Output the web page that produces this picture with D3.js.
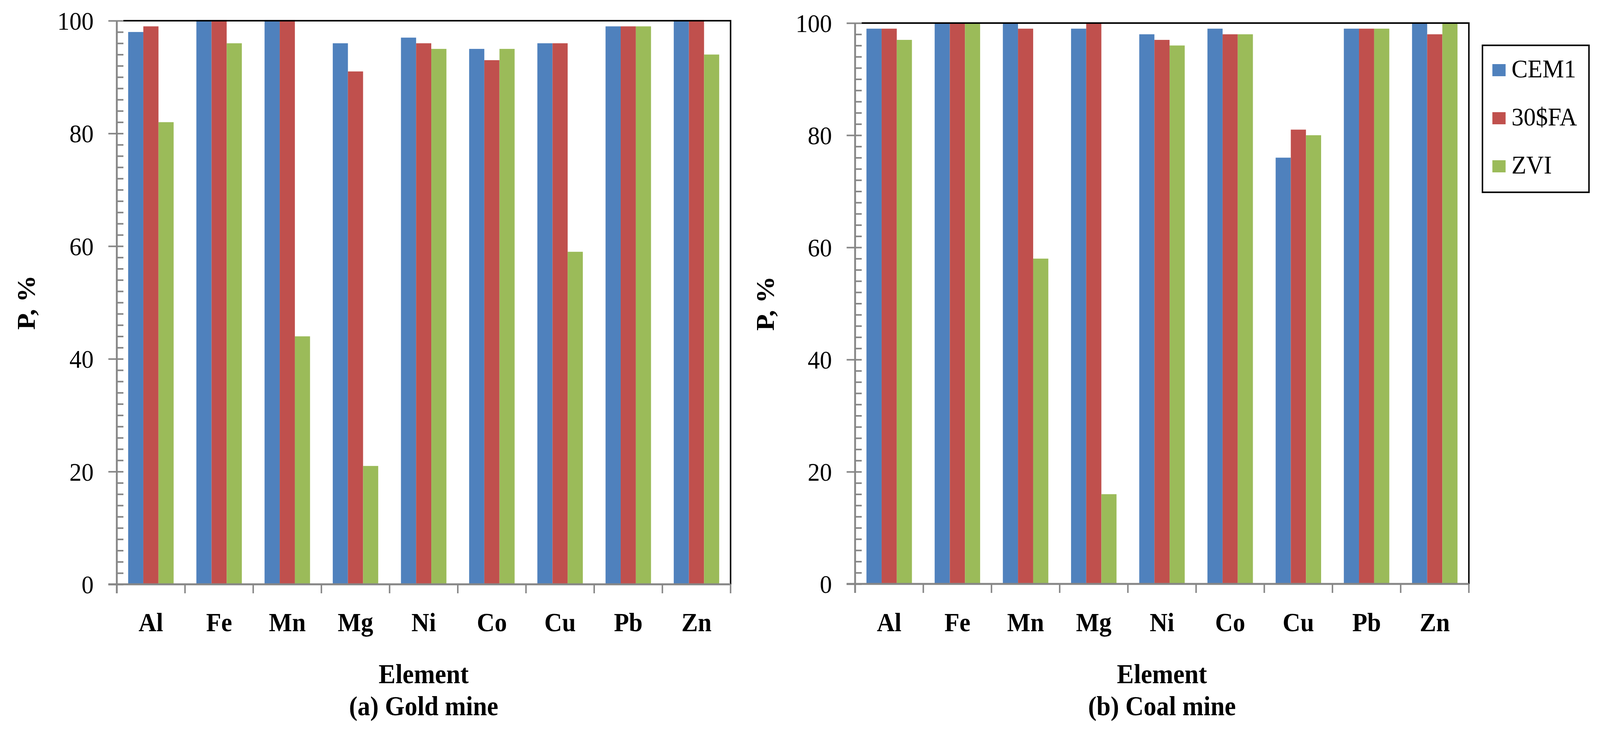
<!DOCTYPE html>
<html>
  <head>
    <meta charset="utf-8">
    <title>P, % by element</title>
    <style>
html, body {
  margin: 0;
  padding: 0;
  background: #fff;
  overflow: hidden;
}
svg {
  display: block;
}
text {
  font-family: "Liberation Serif", "Times New Roman", serif;
  fill: #000;
}
    </style>
  </head>
  <body>
    <div id="chart"></div>
    <script src="https://cdn.jsdelivr.net/npm/d3@7"></script>
    <script>

    var elements = ['Al', 'Fe', 'Mn', 'Mg', 'Ni', 'Co', 'Cu', 'Pb', 'Zn'];
    var series = ['CEM1', '30$FA', 'ZVI'];
    var colors = ['#4F81BD', '#C0504D', '#9BBB59'];

    // (a) Gold mine
    var goldCEM1 = [98, 100, 100, 96, 97, 95, 96, 99, 100];
    var goldFA   = [99, 100, 100, 91, 96, 93, 96, 99, 100];
    var goldZVI  = [82, 96, 44, 21, 95, 95, 59, 99, 94];

    // (b) Coal mine
    var coalCEM1 = [99, 100, 100, 99, 98, 99, 76, 99, 100];
    var coalFA   = [99, 100, 99, 100, 97, 98, 81, 99, 98];
    var coalZVI  = [97, 100, 58, 16, 96, 98, 80, 99, 100];

    var yMajor = [0, 20, 40, 60, 80, 100];
    var yMinor = d3.range(0, 101, 2).filter(function(v) { return v % 20 != 0; });

    var panels = [
      { left: 318, right: 1989, top: 53, bottom: 1495, titleX: 95,
        title: 'Element', sub: '(a) Gold mine', values: [goldCEM1, goldFA, goldZVI] },
      { left: 2328, right: 3999, top: 59, bottom: 1494, titleX: 2107,
        title: 'Element', sub: '(b) Coal mine', values: [coalCEM1, coalFA, coalZVI] }
    ];

    var axisGrey = '#868686';
    var W = 4356, H = 1878;

    // the visible window can be narrower than the drawing: stretch to fill it
    var vw = window.innerWidth || W,
        vh = window.innerHeight || H;

    var svg = d3.select('#chart').append('svg')
        .attr('viewBox', '0 0 ' + W + ' ' + H)
        .attr('preserveAspectRatio', 'none')
        .attr('width', vw)
        .attr('height', vh);

    panels.forEach(function(p) {
      var g = svg.append('g');

      var x0 = d3.scaleBand()
          .domain(elements)
          .range([p.left, p.right])
          .padding(0);
      var x1 = d3.scaleBand()
          .domain(series)
          .range([0, x0.bandwidth()])
          .paddingInner(0)
          .paddingOuter(0.75);
      var y = d3.scaleLinear()
          .domain([0, 100])
          .range([p.bottom, p.top]);

      // bars
      var groups = g.selectAll('.grp')
          .data(elements)
          .enter()
          .append('g')
            .attr('class', 'grp')
            .attr('transform', function(d) { return 'translate(' + x0(d) + ',0)'; });

      groups.selectAll('rect')
          .data(function(d, i) {
            return series.map(function(s, j) { return { s: s, j: j, v: p.values[j][i] }; });
          })
          .enter()
          .append('rect')
            .attr('x', function(d) { return x1(d.s); })
            .attr('width', x1.bandwidth())
            .attr('y', function(d) { return y(d.v); })
            .attr('height', function(d) { return y(0) - y(d.v); })
            .style('fill', function(d) { return colors[d.j]; });

      // frame (top + right)
      g.append('path')
          .attr('d', 'M' + (p.left + 18) + ',' + p.top + 'H' + p.right + 'V' + p.bottom)
          .style('fill', 'none')
          .style('stroke', '#000')
          .style('stroke-width', 4);

      // y axis: outward major ticks with labels
      var yAxis = g.append('g')
          .attr('transform', 'translate(' + p.left + ',0)')
          .call(d3.axisLeft(y).tickValues(yMajor).tickSize(23).tickPadding(40).tickSizeOuter(0));
      yAxis.select('.domain').remove();
      yAxis.selectAll('text')
          .style('font-family', '"Liberation Serif", "Times New Roman", serif')
          .style('font-size', '66px')
          .attr('dy', '0.34em');

      // inner ticks (major + minor)
      var yIn = g.append('g')
          .attr('transform', 'translate(' + p.left + ',0)')
          .call(d3.axisRight(y).tickValues(yMajor.concat(yMinor)).tickSize(18).tickFormat('').tickSizeOuter(0));
      yIn.select('.domain').remove();

      g.selectAll('.tick line')
          .style('stroke', axisGrey)
          .style('stroke-width', 4);

      // x axis category boundary ticks
      var edges = elements.map(function(d) { return x0(d); }).concat([p.right]);
      g.selectAll('.xtick')
          .data(edges)
          .enter()
          .append('line')
            .attr('class', 'xtick')
            .attr('x1', function(d) { return d; })
            .attr('x2', function(d) { return d; })
            .attr('y1', p.bottom)
            .attr('y2', p.bottom + 23)
            .style('stroke', axisGrey)
            .style('stroke-width', 4);

      // axis lines
      g.append('line')
          .attr('x1', p.left).attr('x2', p.left)
          .attr('y1', p.top).attr('y2', p.bottom + 23)
          .style('stroke', axisGrey)
          .style('stroke-width', 5);
      g.append('line')
          .attr('x1', p.left - 23).attr('x2', p.right)
          .attr('y1', p.bottom).attr('y2', p.bottom)
          .style('stroke', axisGrey)
          .style('stroke-width', 5);

      // category labels
      g.selectAll('.xlab')
          .data(elements)
          .enter()
          .append('text')
            .attr('class', 'xlab')
            .attr('x', function(d) { return x0(d) + x0.bandwidth() / 2; })
            .attr('y', 1615)
            .attr('text-anchor', 'middle')
            .style('font-size', '67px')
            .style('font-weight', 'bold')
            .text(function(d) { return d; });

      var cx = (p.left + p.right) / 2;
      g.append('text')
          .attr('x', cx)
          .attr('y', 1748)
          .attr('text-anchor', 'middle')
          .style('font-size', '69px')
          .style('font-weight', 'bold')
          .text(p.title);
      g.append('text')
          .attr('x', cx)
          .attr('y', 1830)
          .attr('text-anchor', 'middle')
          .style('font-size', '69px')
          .style('font-weight', 'bold')
          .text(p.sub);

      g.append('text')
          .attr('transform', 'translate(' + p.titleX + ',' + ((p.top + p.bottom) / 2) + ') rotate(-90)')
          .attr('text-anchor', 'middle')
          .style('font-size', '69px')
          .style('font-weight', 'bold')
          .text('P, %');
    });

    // legend
    var legend = svg.append('g');
    legend.append('rect')
        .attr('x', 4036)
        .attr('y', 116)
        .attr('width', 290)
        .attr('height', 376)
        .style('fill', '#fff')
        .style('stroke', '#000')
        .style('stroke-width', 4);

    var items = legend.selectAll('.item')
        .data(series)
        .enter()
        .append('g')
          .attr('class', 'item')
          .attr('transform', function(d, i) { return 'translate(4063,' + (164 + i * 123) + ')'; });
    items.append('rect')
        .attr('width', 36)
        .attr('height', 31)
        .style('fill', function(d, i) { return colors[i]; });
    items.append('text')
        .attr('x', 52)
        .attr('y', 34)
        .style('font-size', '66px')
        .text(function(d) { return d; });

    </script>
  </body>
</html>
